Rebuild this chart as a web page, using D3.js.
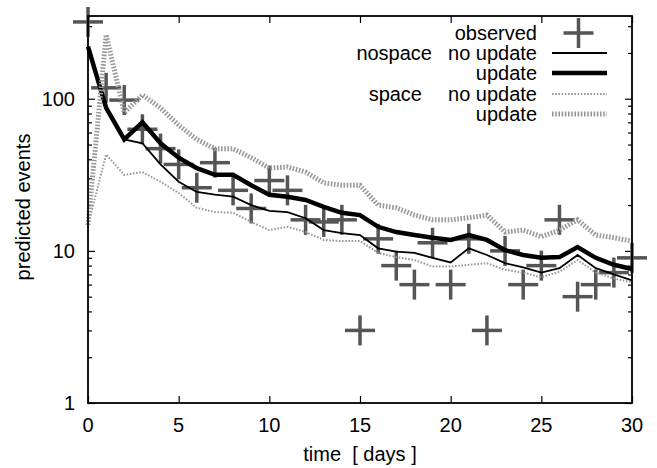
<!DOCTYPE html>
<html lang="en">
<head>
    <meta charset="UTF-8">
    <title>predicted events</title>
    <script src="https://cdn.jsdelivr.net/npm/d3@7"></script>
    <style>
        body {
            margin: 0;
            background: white;
        }
        text {
            font-family: "Liberation Sans", Arial, sans-serif;
            font-size: 20px;
            fill: black;
        }
    </style>
</head>
<body>
<svg id="viz" width="657" height="468"></svg>
<script>
    // days 0..30
    var days = d3.range(0, 31);
    var observed = [320, 118, 98, 63, 47, 37, 26, 38, 25, 19, 29, 25, 16, 15.5, 16, 3, 12, 8, 6, 11.3, 6, 12, 3, 10, 6, 8, 16, 5, 6, 7.2, 9];
    var nospaceNoUpdate = [220, 87, 54, 51, 37, 28.5, 24.4, 23.4, 22.7, 20, 18.3, 18, 16.4, 13.7, 13.1, 12.7, 10.4, 9.9, 9.7, 9.0, 8.4, 10.4, 9.4, 8.3, 7.8, 7.2, 7.7, 9.4, 7.7, 7.0, 6.4];
    var nospaceUpdate = [220, 87, 54, 70, 51, 41, 35, 31.6, 31.6, 27, 23.4, 22.7, 21.6, 19.5, 17.8, 17.2, 14.4, 13.3, 12.7, 12.2, 11.8, 12.7, 11.8, 10.1, 9.4, 9.0, 9.1, 10.6, 9.0, 8.1, 7.6];
    var spaceNoUpdate = [14.8, 43, 31.6, 33, 28.5, 24, 19.2, 18, 17.8, 15.5, 13.7, 14.4, 13.3, 11.8, 11.6, 11.6, 9.7, 9.1, 8.7, 7.9, 7.9, 8.1, 8.3, 7.5, 7.2, 6.7, 7.3, 8.7, 7.2, 6.6, 6.2];
    var spaceUpdate = [14.8, 264, 81, 106, 87, 67, 54, 47, 47, 41, 35, 35.6, 33, 28, 27, 27, 20, 19.2, 17.2, 16, 16, 16.5, 17.2, 13.3, 13.7, 12.4, 13.7, 16, 12.7, 12.2, 11.6];

    var xTicks = [0, 5, 10, 15, 20, 25, 30];
    var yTicks = [1, 10, 100];

    var pLeft = 88, pRight = 632, pTop = 16, pBottom = 403;

    var xScale = d3.scaleLinear().domain([0, 30]).range([pLeft, pRight]);
    var yScale = d3.scaleLog().domain([1, 350]).range([pBottom, pTop]);

    var svg = d3.select("#viz");

    // minor log ticks 2..9 in each decade
    var minor = yScale.ticks().filter(function (v) {
        return yTicks.indexOf(v) < 0;
    });

    var axes = svg.append("g");

    function noDomain(g) { g.select(".domain").remove(); }

    // left / right axes
    axes.append("g").attr("transform", "translate(" + pLeft + ",0)")
        .call(d3.axisRight(yScale).tickValues(yTicks).tickSize(7).tickFormat(""))
        .call(noDomain);
    axes.append("g").attr("transform", "translate(" + pLeft + ",0)")
        .call(d3.axisRight(yScale).tickValues(minor).tickSize(4).tickFormat(""))
        .call(noDomain);
    axes.append("g").attr("transform", "translate(" + pRight + ",0)")
        .call(d3.axisLeft(yScale).tickValues(yTicks).tickSize(7).tickFormat(""))
        .call(noDomain);
    axes.append("g").attr("transform", "translate(" + pRight + ",0)")
        .call(d3.axisLeft(yScale).tickValues(minor).tickSize(4).tickFormat(""))
        .call(noDomain);

    // bottom / top axes
    axes.append("g").attr("transform", "translate(0," + pBottom + ")")
        .call(d3.axisTop(xScale).tickValues(xTicks).tickSize(7).tickFormat(""))
        .call(noDomain);
    axes.append("g").attr("transform", "translate(0," + pTop + ")")
        .call(d3.axisBottom(xScale).tickValues(xTicks).tickSize(7).tickFormat(""))
        .call(noDomain);

    axes.selectAll("line").attr("stroke", "black").attr("stroke-width", 1.2);
    axes.selectAll("text").remove();

    // tick labels
    svg.selectAll("text.ylab").data(yTicks).enter().append("text")
        .attr("class", "ylab")
        .attr("x", pLeft - 13)
        .attr("y", function (d) { return yScale(d) + 7; })
        .attr("text-anchor", "end")
        .text(function (d) { return d; });

    svg.selectAll("text.xlab").data(xTicks).enter().append("text")
        .attr("class", "xlab")
        .attr("x", function (d) { return xScale(d); })
        .attr("y", pBottom + 29)
        .attr("text-anchor", "middle")
        .text(function (d) { return d; });

    svg.append("text")
        .attr("x", (pLeft + pRight) / 2)
        .attr("y", 461)
        .attr("text-anchor", "middle")
        .attr("xml:space", "preserve")
        .text("time  [ days ]");

    svg.append("text")
        .attr("transform", "translate(30," + 207 + ") rotate(-90)")
        .attr("text-anchor", "middle")
        .text("predicted events");

    // observed crosses
    var crossColor = "#555555";
    function cross(g, cx, cy) {
        g.append("line").attr("x1", cx - 15).attr("x2", cx + 15).attr("y1", cy).attr("y2", cy);
        g.append("line").attr("x1", cx).attr("x2", cx).attr("y1", cy - 15).attr("y2", cy + 15);
    }
    var pts = svg.append("g").attr("stroke", crossColor).attr("stroke-width", 3.5);
    observed.forEach(function (v, i) {
        cross(pts, xScale(days[i]), yScale(v));
    });

    var series = [
        {name: "no update", group: "nospace", values: nospaceNoUpdate, color: "black", width: 1.8, dash: null},
        {name: "update", group: "", values: nospaceUpdate, color: "black", width: 4.5, dash: null},
        {name: "no update", group: "space", values: spaceNoUpdate, color: "#999999", width: 2, dash: "1.6,1.6"},
        {name: "update", group: "", values: spaceUpdate, color: "#999999", width: 5, dash: "1.6,1.6"}
    ];

    var line = d3.line()
        .x(function (d, i) { return xScale(days[i]); })
        .y(function (d) { return yScale(d); });

    series.forEach(function (s) {
        svg.append("path")
            .attr("d", line(s.values))
            .attr("fill", "none")
            .attr("stroke", s.color)
            .attr("stroke-width", s.width)
            .attr("stroke-dasharray", s.dash)
            .attr("stroke-linejoin", "miter");
    });

    // frame
    svg.append("rect")
        .attr("x", pLeft).attr("y", pTop)
        .attr("width", pRight - pLeft).attr("height", pBottom - pTop)
        .attr("fill", "none").attr("stroke", "black").attr("stroke-width", 1.8);

    // legend
    var legX = 537, lineX1 = 552, lineX2 = 607;
    var legY = [33, 53, 73, 94, 114];
    svg.append("text").attr("x", legX).attr("y", legY[0] + 7)
        .attr("text-anchor", "end").text("observed");
    var lp = svg.append("g").attr("stroke", crossColor).attr("stroke-width", 3.5);
    cross(lp, (lineX1 + lineX2) / 2 - 1, legY[0]);

    series.forEach(function (s, i) {
        var y = legY[i + 1];
        svg.append("text").attr("x", legX).attr("y", y + 7)
            .attr("text-anchor", "end").text(s.name);
        if (s.group) {
            svg.append("text").attr("x", s.group === "nospace" ? 432 : 422).attr("y", y + 7)
                .attr("text-anchor", "end").text(s.group);
        }
        svg.append("line")
            .attr("x1", lineX1).attr("x2", lineX2)
            .attr("y1", y).attr("y2", y)
            .attr("stroke", s.color)
            .attr("stroke-width", s.width)
            .attr("stroke-dasharray", s.dash);
    });
</script>
</body>
</html>
